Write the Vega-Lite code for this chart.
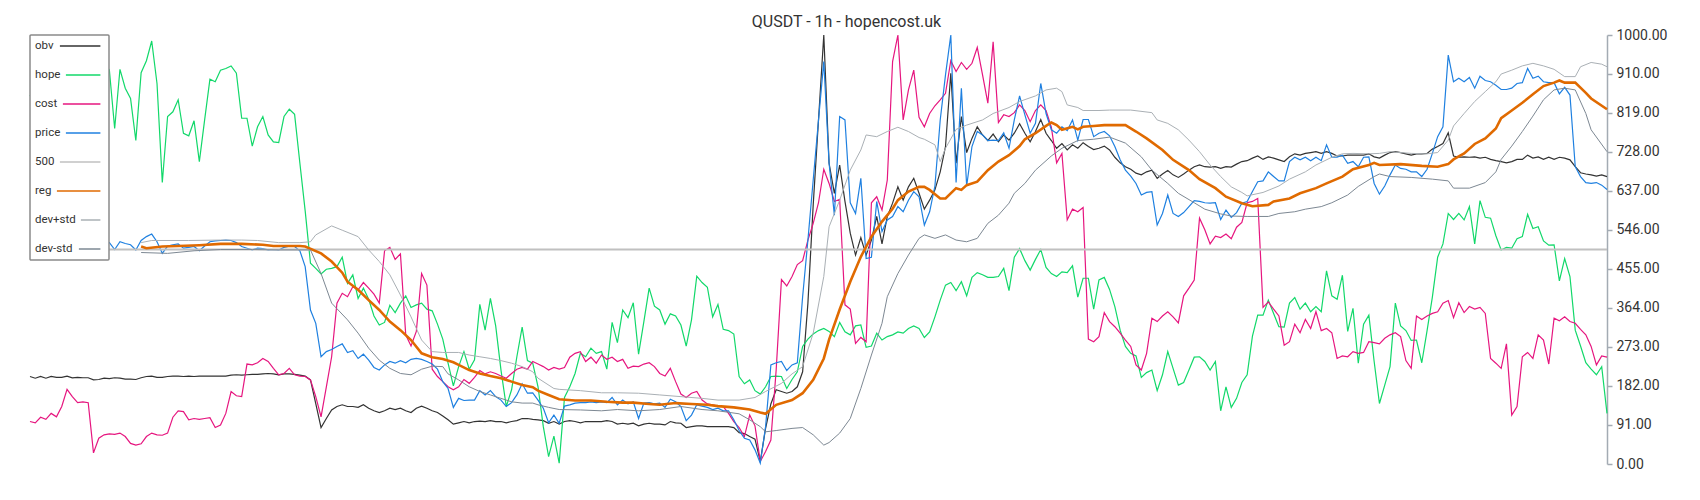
{
"$schema": "https://vega.github.io/schema/vega-lite/v6.json",
"width": 1577, "height": 429,
"autosize": {"type": "none"},
"padding": {"left": 30, "top": 35, "right": 93, "bottom": 36},
"background": "white",
"title": {"text": "QUSDT - 1h - hopencost.uk", "font": "Roboto", "fontSize": 16, "fontWeight": 400, "color": "#333333", "anchor": "middle", "frame": "bounds", "baseline": "alphabetic", "offset": 1, "dy": 16},
"config": {"view": {"stroke": null}},
"datasets": {
"obv": [{"t":0,"v":204},{"t":1,"v":200},{"t":2,"v":204},{"t":3,"v":200},{"t":4,"v":204},{"t":5,"v":202},{"t":6,"v":202},{"t":7,"v":205},{"t":8,"v":201},{"t":9,"v":202},{"t":10,"v":201},{"t":11,"v":201},{"t":12,"v":196},{"t":13,"v":197},{"t":14,"v":200},{"t":15,"v":199},{"t":16,"v":201},{"t":17,"v":200},{"t":18,"v":198},{"t":19,"v":198},{"t":20,"v":197},{"t":21,"v":201},{"t":22,"v":204},{"t":23,"v":205},{"t":24,"v":202},{"t":25,"v":202},{"t":26,"v":204},{"t":27,"v":205},{"t":28,"v":205},{"t":29,"v":204},{"t":30,"v":205},{"t":31,"v":204},{"t":32,"v":205},{"t":33,"v":205},{"t":34,"v":205},{"t":35,"v":205},{"t":36,"v":205},{"t":37,"v":205},{"t":38,"v":207},{"t":39,"v":208},{"t":40,"v":207},{"t":41,"v":208},{"t":42,"v":209},{"t":43,"v":209},{"t":44,"v":210},{"t":45,"v":211},{"t":46,"v":210},{"t":47,"v":208},{"t":48,"v":210},{"t":49,"v":210},{"t":50,"v":209},{"t":51,"v":207},{"t":52,"v":205},{"t":53,"v":196},{"t":54,"v":141},{"t":55,"v":85},{"t":56,"v":106},{"t":57,"v":126},{"t":58,"v":134},{"t":59,"v":138},{"t":60,"v":134},{"t":61,"v":134},{"t":62,"v":132},{"t":63,"v":138},{"t":64,"v":130},{"t":65,"v":124},{"t":66,"v":120},{"t":67,"v":124},{"t":68,"v":130},{"t":69,"v":127},{"t":70,"v":130},{"t":71,"v":124},{"t":72,"v":120},{"t":73,"v":130},{"t":74,"v":135},{"t":75,"v":130},{"t":76,"v":124},{"t":77,"v":120},{"t":78,"v":112},{"t":79,"v":103},{"t":80,"v":93},{"t":81,"v":96},{"t":82,"v":99},{"t":83,"v":96},{"t":84,"v":99},{"t":85,"v":100},{"t":86,"v":99},{"t":87,"v":101},{"t":88,"v":99},{"t":89,"v":99},{"t":90,"v":96},{"t":91,"v":99},{"t":92,"v":101},{"t":93,"v":106},{"t":94,"v":106},{"t":95,"v":104},{"t":96,"v":103},{"t":97,"v":101},{"t":98,"v":95},{"t":99,"v":99},{"t":100,"v":93},{"t":101,"v":99},{"t":102,"v":101},{"t":103,"v":99},{"t":104,"v":96},{"t":105,"v":99},{"t":106,"v":99},{"t":107,"v":99},{"t":108,"v":99},{"t":109,"v":101},{"t":110,"v":99},{"t":111,"v":93},{"t":112,"v":95},{"t":113,"v":93},{"t":114,"v":95},{"t":115,"v":89},{"t":116,"v":93},{"t":117,"v":95},{"t":118,"v":93},{"t":119,"v":93},{"t":120,"v":91},{"t":121,"v":99},{"t":122,"v":96},{"t":123,"v":95},{"t":124,"v":85},{"t":125,"v":87},{"t":126,"v":89},{"t":127,"v":89},{"t":128,"v":87},{"t":129,"v":87},{"t":130,"v":87},{"t":131,"v":87},{"t":132,"v":87},{"t":133,"v":85},{"t":134,"v":73},{"t":135,"v":71},{"t":136,"v":64},{"t":137,"v":58},{"t":138,"v":6},{"t":139,"v":83},{"t":140,"v":140},{"t":141,"v":173},{"t":142,"v":169},{"t":143,"v":165},{"t":144,"v":169},{"t":145,"v":180},{"t":146,"v":215},{"t":147,"v":375},{"t":148,"v":604},{"t":149,"v":802},{"t":150,"v":1000},{"t":151,"v":701},{"t":152,"v":631},{"t":153,"v":697},{"t":154,"v":612},{"t":155,"v":538},{"t":156,"v":487},{"t":157,"v":528},{"t":158,"v":487},{"t":159,"v":522},{"t":160,"v":577},{"t":161,"v":513},{"t":162,"v":577},{"t":163,"v":608},{"t":164,"v":646},{"t":165,"v":615},{"t":166,"v":646},{"t":167,"v":666},{"t":168,"v":631},{"t":169,"v":594},{"t":170,"v":615},{"t":171,"v":639},{"t":172,"v":681},{"t":173,"v":740},{"t":174,"v":911},{"t":175,"v":701},{"t":176,"v":810},{"t":177,"v":726},{"t":178,"v":759},{"t":179,"v":786},{"t":180,"v":767},{"t":181,"v":754},{"t":182,"v":769},{"t":183,"v":751},{"t":184,"v":767},{"t":185,"v":755},{"t":186,"v":771},{"t":187,"v":793},{"t":188,"v":771},{"t":189,"v":751},{"t":190,"v":775},{"t":191,"v":803},{"t":192,"v":771},{"t":193,"v":754},{"t":194,"v":736},{"t":195,"v":747},{"t":196,"v":732},{"t":197,"v":744},{"t":198,"v":736},{"t":199,"v":749},{"t":200,"v":740},{"t":201,"v":733},{"t":202,"v":736},{"t":203,"v":741},{"t":204,"v":732},{"t":205,"v":715},{"t":206,"v":702},{"t":207,"v":693},{"t":208,"v":687},{"t":209,"v":678},{"t":210,"v":674},{"t":211,"v":681},{"t":212,"v":685},{"t":213,"v":666},{"t":214,"v":676},{"t":215,"v":684},{"t":216,"v":674},{"t":217,"v":668},{"t":218,"v":676},{"t":219,"v":685},{"t":220,"v":693},{"t":221,"v":697},{"t":222,"v":693},{"t":223,"v":692},{"t":224,"v":693},{"t":225,"v":689},{"t":226,"v":693},{"t":227,"v":692},{"t":228,"v":699},{"t":229,"v":705},{"t":230,"v":707},{"t":231,"v":713},{"t":232,"v":718},{"t":233,"v":710},{"t":234,"v":716},{"t":235,"v":713},{"t":236,"v":709},{"t":237,"v":705},{"t":238,"v":716},{"t":239,"v":723},{"t":240,"v":720},{"t":241,"v":724},{"t":242,"v":726},{"t":243,"v":728},{"t":244,"v":724},{"t":245,"v":728},{"t":246,"v":724},{"t":247,"v":718},{"t":248,"v":718},{"t":249,"v":720},{"t":250,"v":720},{"t":251,"v":720},{"t":252,"v":720},{"t":253,"v":723},{"t":254,"v":716},{"t":255,"v":713},{"t":256,"v":720},{"t":257,"v":726},{"t":258,"v":728},{"t":259,"v":726},{"t":260,"v":723},{"t":261,"v":720},{"t":262,"v":723},{"t":263,"v":723},{"t":264,"v":724},{"t":265,"v":734},{"t":266,"v":740},{"t":267,"v":747},{"t":268,"v":772},{"t":269,"v":718},{"t":270,"v":715},{"t":271,"v":716},{"t":272,"v":715},{"t":273,"v":716},{"t":274,"v":713},{"t":275,"v":715},{"t":276,"v":710},{"t":277,"v":707},{"t":278,"v":705},{"t":279,"v":702},{"t":280,"v":705},{"t":281,"v":710},{"t":282,"v":710},{"t":283,"v":720},{"t":284,"v":713},{"t":285,"v":716},{"t":286,"v":710},{"t":287,"v":715},{"t":288,"v":710},{"t":289,"v":715},{"t":290,"v":713},{"t":291,"v":709},{"t":292,"v":693},{"t":293,"v":679},{"t":294,"v":676},{"t":295,"v":674},{"t":296,"v":671},{"t":297,"v":674},{"t":298,"v":670}],
"hope": [{"t":0,"v":860},{"t":1,"v":830},{"t":2,"v":880},{"t":3,"v":850},{"t":4,"v":800},{"t":5,"v":870},{"t":6,"v":905},{"t":7,"v":860},{"t":8,"v":820},{"t":9,"v":870},{"t":10,"v":900},{"t":11,"v":880},{"t":12,"v":835},{"t":13,"v":870},{"t":14,"v":900},{"t":15,"v":918},{"t":16,"v":782},{"t":17,"v":920},{"t":18,"v":876},{"t":19,"v":852},{"t":20,"v":754},{"t":21,"v":912},{"t":22,"v":940},{"t":23,"v":986},{"t":24,"v":887},{"t":25,"v":656},{"t":26,"v":810},{"t":27,"v":821},{"t":28,"v":849},{"t":29,"v":771},{"t":30,"v":765},{"t":31,"v":800},{"t":32,"v":705},{"t":33,"v":802},{"t":34,"v":897},{"t":35,"v":891},{"t":36,"v":918},{"t":37,"v":922},{"t":38,"v":928},{"t":39,"v":911},{"t":40,"v":806},{"t":41,"v":806},{"t":42,"v":741},{"t":43,"v":786},{"t":44,"v":810},{"t":45,"v":767},{"t":46,"v":751},{"t":47,"v":749},{"t":48,"v":810},{"t":49,"v":827},{"t":50,"v":815},{"t":51,"v":701},{"t":52,"v":590},{"t":53,"v":468},{"t":54,"v":456},{"t":55,"v":443},{"t":56,"v":454},{"t":57,"v":456},{"t":58,"v":460},{"t":59,"v":482},{"t":60,"v":421},{"t":61,"v":441},{"t":62,"v":386},{"t":63,"v":410},{"t":64,"v":384},{"t":65,"v":345},{"t":66,"v":324},{"t":67,"v":330},{"t":68,"v":370},{"t":69,"v":353},{"t":70,"v":375},{"t":71,"v":392},{"t":72,"v":365},{"t":73,"v":371},{"t":74,"v":375},{"t":75,"v":361},{"t":76,"v":357},{"t":77,"v":326},{"t":78,"v":291},{"t":79,"v":235},{"t":80,"v":182},{"t":81,"v":227},{"t":82,"v":262},{"t":83,"v":221},{"t":84,"v":243},{"t":85,"v":372},{"t":86,"v":312},{"t":87,"v":386},{"t":88,"v":322},{"t":89,"v":219},{"t":90,"v":134},{"t":91,"v":173},{"t":92,"v":250},{"t":93,"v":319},{"t":94,"v":241},{"t":95,"v":235},{"t":96,"v":180},{"t":97,"v":87},{"t":98,"v":17},{"t":99,"v":65},{"t":100,"v":2},{"t":101,"v":155},{"t":102,"v":180},{"t":103,"v":211},{"t":104,"v":258},{"t":105,"v":250},{"t":106,"v":270},{"t":107,"v":258},{"t":108,"v":262},{"t":109,"v":221},{"t":110,"v":330},{"t":111,"v":283},{"t":112,"v":359},{"t":113,"v":341},{"t":114,"v":376},{"t":115,"v":256},{"t":116,"v":332},{"t":117,"v":410},{"t":118,"v":368},{"t":119,"v":359},{"t":120,"v":326},{"t":121,"v":350},{"t":122,"v":345},{"t":123,"v":324},{"t":124,"v":275},{"t":125,"v":336},{"t":126,"v":438},{"t":127,"v":423},{"t":128,"v":412},{"t":129,"v":343},{"t":130,"v":372},{"t":131,"v":314},{"t":132,"v":311},{"t":133,"v":303},{"t":134,"v":204},{"t":135,"v":187},{"t":136,"v":196},{"t":137,"v":171},{"t":138,"v":163},{"t":139,"v":180},{"t":140,"v":204},{"t":141,"v":205},{"t":142,"v":204},{"t":143,"v":176},{"t":144,"v":197},{"t":145,"v":215},{"t":146,"v":274},{"t":147,"v":291},{"t":148,"v":303},{"t":149,"v":311},{"t":150,"v":316},{"t":151,"v":309},{"t":152,"v":297},{"t":153,"v":330},{"t":154,"v":308},{"t":155,"v":301},{"t":156,"v":322},{"t":157,"v":324},{"t":158,"v":272},{"t":159,"v":275},{"t":160,"v":305},{"t":161,"v":289},{"t":162,"v":297},{"t":163,"v":301},{"t":164,"v":308},{"t":165,"v":305},{"t":166,"v":316},{"t":167,"v":322},{"t":168,"v":316},{"t":169,"v":295},{"t":170,"v":308},{"t":171,"v":343},{"t":172,"v":382},{"t":173,"v":417},{"t":174,"v":423},{"t":175,"v":404},{"t":176,"v":425},{"t":177,"v":392},{"t":178,"v":435},{"t":179,"v":446},{"t":180,"v":441},{"t":181,"v":435},{"t":182,"v":435},{"t":183,"v":437},{"t":184,"v":456},{"t":185,"v":404},{"t":186,"v":482},{"t":187,"v":502},{"t":188,"v":474},{"t":189,"v":452},{"t":190,"v":477},{"t":191,"v":500},{"t":192,"v":458},{"t":193,"v":444},{"t":194,"v":437},{"t":195,"v":448},{"t":196,"v":446},{"t":197,"v":462},{"t":198,"v":389},{"t":199,"v":433},{"t":200,"v":433},{"t":201,"v":361},{"t":202,"v":429},{"t":203,"v":435},{"t":204,"v":407},{"t":205,"v":367},{"t":206,"v":312},{"t":207,"v":274},{"t":208,"v":258},{"t":209,"v":252},{"t":210,"v":202},{"t":211,"v":213},{"t":212,"v":219},{"t":213,"v":171},{"t":214,"v":208},{"t":215,"v":262},{"t":216,"v":223},{"t":217,"v":184},{"t":218,"v":190},{"t":219,"v":219},{"t":220,"v":249},{"t":221,"v":250},{"t":222,"v":239},{"t":223,"v":219},{"t":224,"v":239},{"t":225,"v":124},{"t":226,"v":180},{"t":227,"v":132},{"t":228,"v":153},{"t":229,"v":190},{"t":230,"v":208},{"t":231,"v":298},{"t":232,"v":347},{"t":233,"v":347},{"t":234,"v":382},{"t":235,"v":351},{"t":236,"v":320},{"t":237,"v":319},{"t":238,"v":375},{"t":239,"v":388},{"t":240,"v":361},{"t":241,"v":375},{"t":242,"v":355},{"t":243,"v":367},{"t":244,"v":355},{"t":245,"v":450},{"t":246,"v":392},{"t":247,"v":384},{"t":248,"v":440},{"t":249,"v":309},{"t":250,"v":363},{"t":251,"v":235},{"t":252,"v":326},{"t":253,"v":347},{"t":254,"v":239},{"t":255,"v":141},{"t":256,"v":184},{"t":257,"v":227},{"t":258,"v":375},{"t":259,"v":322},{"t":260,"v":311},{"t":261,"v":288},{"t":262,"v":289},{"t":263,"v":236},{"t":264,"v":311},{"t":265,"v":389},{"t":266,"v":482},{"t":267,"v":513},{"t":268,"v":584},{"t":269,"v":570},{"t":270,"v":584},{"t":271,"v":569},{"t":272,"v":600},{"t":273,"v":513},{"t":274,"v":614},{"t":275,"v":575},{"t":276,"v":573},{"t":277,"v":532},{"t":278,"v":499},{"t":279,"v":505},{"t":280,"v":503},{"t":281,"v":525},{"t":282,"v":530},{"t":283,"v":582},{"t":284,"v":549},{"t":285,"v":553},{"t":286,"v":520},{"t":287,"v":510},{"t":288,"v":511},{"t":289,"v":427},{"t":290,"v":479},{"t":291,"v":437},{"t":292,"v":312},{"t":293,"v":275},{"t":294,"v":236},{"t":295,"v":221},{"t":296,"v":208},{"t":297,"v":227},{"t":298,"v":118}],
"cost": [{"t":0,"v":99},{"t":1,"v":96},{"t":2,"v":109},{"t":3,"v":104},{"t":4,"v":118},{"t":5,"v":110},{"t":6,"v":134},{"t":7,"v":174},{"t":8,"v":157},{"t":9,"v":143},{"t":10,"v":145},{"t":11,"v":143},{"t":12,"v":26},{"t":13,"v":60},{"t":14,"v":68},{"t":15,"v":70},{"t":16,"v":69},{"t":17,"v":72},{"t":18,"v":64},{"t":19,"v":48},{"t":20,"v":44},{"t":21,"v":47},{"t":22,"v":64},{"t":23,"v":72},{"t":24,"v":68},{"t":25,"v":67},{"t":26,"v":72},{"t":27,"v":109},{"t":28,"v":124},{"t":29,"v":122},{"t":30,"v":103},{"t":31,"v":106},{"t":32,"v":104},{"t":33,"v":106},{"t":34,"v":108},{"t":35,"v":85},{"t":36,"v":91},{"t":37,"v":118},{"t":38,"v":169},{"t":39,"v":159},{"t":40,"v":157},{"t":41,"v":233},{"t":42,"v":231},{"t":43,"v":236},{"t":44,"v":246},{"t":45,"v":239},{"t":46,"v":223},{"t":47,"v":208},{"t":48,"v":211},{"t":49,"v":223},{"t":50,"v":208},{"t":51,"v":205},{"t":52,"v":204},{"t":53,"v":196},{"t":54,"v":157},{"t":55,"v":110},{"t":56,"v":180},{"t":57,"v":250},{"t":58,"v":375},{"t":59,"v":398},{"t":60,"v":390},{"t":61,"v":413},{"t":62,"v":406},{"t":63,"v":423},{"t":64,"v":410},{"t":65,"v":396},{"t":66,"v":375},{"t":67,"v":497},{"t":68,"v":505},{"t":69,"v":477},{"t":70,"v":490},{"t":71,"v":301},{"t":72,"v":275},{"t":73,"v":309},{"t":74,"v":444},{"t":75,"v":417},{"t":76,"v":221},{"t":77,"v":204},{"t":78,"v":192},{"t":79,"v":180},{"t":80,"v":173},{"t":81,"v":180},{"t":82,"v":197},{"t":83,"v":188},{"t":84,"v":202},{"t":85,"v":218},{"t":86,"v":210},{"t":87,"v":215},{"t":88,"v":211},{"t":89,"v":205},{"t":90,"v":200},{"t":91,"v":211},{"t":92,"v":221},{"t":93,"v":225},{"t":94,"v":221},{"t":95,"v":239},{"t":96,"v":233},{"t":97,"v":227},{"t":98,"v":219},{"t":99,"v":225},{"t":100,"v":221},{"t":101,"v":225},{"t":102,"v":249},{"t":103,"v":258},{"t":104,"v":262},{"t":105,"v":239},{"t":106,"v":249},{"t":107,"v":235},{"t":108,"v":254},{"t":109,"v":244},{"t":110,"v":249},{"t":111,"v":239},{"t":112,"v":244},{"t":113,"v":223},{"t":114,"v":228},{"t":115,"v":227},{"t":116,"v":233},{"t":117,"v":236},{"t":118,"v":227},{"t":119,"v":211},{"t":120,"v":205},{"t":121,"v":223},{"t":122,"v":192},{"t":123,"v":163},{"t":124,"v":155},{"t":125,"v":165},{"t":126,"v":169},{"t":127,"v":149},{"t":128,"v":140},{"t":129,"v":138},{"t":130,"v":135},{"t":131,"v":134},{"t":132,"v":118},{"t":133,"v":99},{"t":134,"v":85},{"t":135,"v":64},{"t":136,"v":114},{"t":137,"v":89},{"t":138,"v":6},{"t":139,"v":29},{"t":140,"v":56},{"t":141,"v":219},{"t":142,"v":430},{"t":143,"v":415},{"t":144,"v":437},{"t":145,"v":465},{"t":146,"v":474},{"t":147,"v":522},{"t":148,"v":561},{"t":149,"v":609},{"t":150,"v":687},{"t":151,"v":654},{"t":152,"v":612},{"t":153,"v":617},{"t":154,"v":371},{"t":155,"v":361},{"t":156,"v":281},{"t":157,"v":295},{"t":158,"v":285},{"t":159,"v":609},{"t":160,"v":623},{"t":161,"v":592},{"t":162,"v":662},{"t":163,"v":938},{"t":164,"v":1000},{"t":165,"v":802},{"t":166,"v":872},{"t":167,"v":918},{"t":168,"v":808},{"t":169,"v":786},{"t":170,"v":817},{"t":171,"v":835},{"t":172,"v":849},{"t":173,"v":864},{"t":174,"v":940},{"t":175,"v":915},{"t":176,"v":936},{"t":177,"v":920},{"t":178,"v":934},{"t":179,"v":971},{"t":180,"v":907},{"t":181,"v":841},{"t":182,"v":984},{"t":183,"v":796},{"t":184,"v":814},{"t":185,"v":810},{"t":186,"v":819},{"t":187,"v":837},{"t":188,"v":824},{"t":189,"v":798},{"t":190,"v":824},{"t":191,"v":837},{"t":192,"v":824},{"t":193,"v":785},{"t":194,"v":702},{"t":195,"v":724},{"t":196,"v":569},{"t":197,"v":594},{"t":198,"v":588},{"t":199,"v":598},{"t":200,"v":291},{"t":201,"v":285},{"t":202,"v":297},{"t":203,"v":353},{"t":204,"v":332},{"t":205,"v":320},{"t":206,"v":305},{"t":207,"v":289},{"t":208,"v":274},{"t":209,"v":231},{"t":210,"v":219},{"t":211,"v":258},{"t":212,"v":340},{"t":213,"v":332},{"t":214,"v":345},{"t":215,"v":355},{"t":216,"v":343},{"t":217,"v":329},{"t":218,"v":392},{"t":219,"v":410},{"t":220,"v":429},{"t":221,"v":573},{"t":222,"v":546},{"t":223,"v":513},{"t":224,"v":531},{"t":225,"v":528},{"t":226,"v":536},{"t":227,"v":525},{"t":228,"v":552},{"t":229,"v":563},{"t":230,"v":609},{"t":231,"v":612},{"t":232,"v":619},{"t":233,"v":365},{"t":234,"v":378},{"t":235,"v":361},{"t":236,"v":345},{"t":237,"v":277},{"t":238,"v":285},{"t":239,"v":326},{"t":240,"v":306},{"t":241,"v":337},{"t":242,"v":316},{"t":243,"v":355},{"t":244,"v":311},{"t":245,"v":316},{"t":246,"v":306},{"t":247,"v":246},{"t":248,"v":252},{"t":249,"v":250},{"t":250,"v":262},{"t":251,"v":258},{"t":252,"v":260},{"t":253,"v":285},{"t":254,"v":283},{"t":255,"v":280},{"t":256,"v":293},{"t":257,"v":301},{"t":258,"v":306},{"t":259,"v":297},{"t":260,"v":241},{"t":261,"v":223},{"t":262,"v":345},{"t":263,"v":337},{"t":264,"v":345},{"t":265,"v":351},{"t":266,"v":355},{"t":267,"v":375},{"t":268,"v":381},{"t":269,"v":341},{"t":270,"v":376},{"t":271,"v":353},{"t":272,"v":367},{"t":273,"v":361},{"t":274,"v":365},{"t":275,"v":351},{"t":276,"v":246},{"t":277,"v":235},{"t":278,"v":223},{"t":279,"v":280},{"t":280,"v":114},{"t":281,"v":134},{"t":282,"v":250},{"t":283,"v":260},{"t":284,"v":246},{"t":285,"v":301},{"t":286,"v":289},{"t":287,"v":233},{"t":288,"v":340},{"t":289,"v":334},{"t":290,"v":343},{"t":291,"v":332},{"t":292,"v":328},{"t":293,"v":314},{"t":294,"v":301},{"t":295,"v":274},{"t":296,"v":231},{"t":297,"v":252},{"t":298,"v":249}],
"price": [{"t":0,"v":512},{"t":1,"v":508},{"t":2,"v":515},{"t":3,"v":510},{"t":4,"v":504},{"t":5,"v":512},{"t":6,"v":518},{"t":7,"v":510},{"t":8,"v":506},{"t":9,"v":514},{"t":10,"v":520},{"t":11,"v":512},{"t":12,"v":505},{"t":13,"v":510},{"t":14,"v":515},{"t":15,"v":516},{"t":16,"v":500},{"t":17,"v":518},{"t":18,"v":514},{"t":19,"v":511},{"t":20,"v":499},{"t":21,"v":521},{"t":22,"v":530},{"t":23,"v":536},{"t":24,"v":518},{"t":25,"v":491},{"t":26,"v":508},{"t":27,"v":511},{"t":28,"v":513},{"t":29,"v":503},{"t":30,"v":505},{"t":31,"v":507},{"t":32,"v":497},{"t":33,"v":508},{"t":34,"v":518},{"t":35,"v":520},{"t":36,"v":521},{"t":37,"v":522},{"t":38,"v":521},{"t":39,"v":516},{"t":40,"v":507},{"t":41,"v":503},{"t":42,"v":499},{"t":43,"v":503},{"t":44,"v":502},{"t":45,"v":499},{"t":46,"v":500},{"t":47,"v":499},{"t":48,"v":505},{"t":49,"v":508},{"t":50,"v":507},{"t":51,"v":497},{"t":52,"v":460},{"t":53,"v":359},{"t":54,"v":328},{"t":55,"v":250},{"t":56,"v":262},{"t":57,"v":267},{"t":58,"v":274},{"t":59,"v":280},{"t":60,"v":260},{"t":61,"v":264},{"t":62,"v":246},{"t":63,"v":256},{"t":64,"v":242},{"t":65,"v":225},{"t":66,"v":219},{"t":67,"v":231},{"t":68,"v":239},{"t":69,"v":235},{"t":70,"v":241},{"t":71,"v":236},{"t":72,"v":244},{"t":73,"v":246},{"t":74,"v":244},{"t":75,"v":239},{"t":76,"v":233},{"t":77,"v":221},{"t":78,"v":192},{"t":79,"v":176},{"t":80,"v":132},{"t":81,"v":153},{"t":82,"v":148},{"t":83,"v":149},{"t":84,"v":149},{"t":85,"v":171},{"t":86,"v":161},{"t":87,"v":171},{"t":88,"v":157},{"t":89,"v":149},{"t":90,"v":134},{"t":91,"v":143},{"t":92,"v":161},{"t":93,"v":187},{"t":94,"v":165},{"t":95,"v":166},{"t":96,"v":149},{"t":97,"v":130},{"t":98,"v":96},{"t":99,"v":114},{"t":100,"v":95},{"t":101,"v":135},{"t":102,"v":138},{"t":103,"v":142},{"t":104,"v":143},{"t":105,"v":143},{"t":106,"v":145},{"t":107,"v":143},{"t":108,"v":145},{"t":109,"v":143},{"t":110,"v":155},{"t":111,"v":138},{"t":112,"v":149},{"t":113,"v":140},{"t":114,"v":145},{"t":115,"v":106},{"t":116,"v":142},{"t":117,"v":143},{"t":118,"v":140},{"t":119,"v":142},{"t":120,"v":132},{"t":121,"v":151},{"t":122,"v":145},{"t":123,"v":134},{"t":124,"v":101},{"t":125,"v":114},{"t":126,"v":138},{"t":127,"v":135},{"t":128,"v":132},{"t":129,"v":127},{"t":130,"v":130},{"t":131,"v":124},{"t":132,"v":124},{"t":133,"v":103},{"t":134,"v":78},{"t":135,"v":60},{"t":136,"v":56},{"t":137,"v":33},{"t":138,"v":2},{"t":139,"v":87},{"t":140,"v":231},{"t":141,"v":236},{"t":142,"v":239},{"t":143,"v":218},{"t":144,"v":231},{"t":145,"v":236},{"t":146,"v":390},{"t":147,"v":522},{"t":148,"v":662},{"t":149,"v":802},{"t":150,"v":938},{"t":151,"v":701},{"t":152,"v":580},{"t":153,"v":810},{"t":154,"v":802},{"t":155,"v":609},{"t":156,"v":584},{"t":157,"v":666},{"t":158,"v":479},{"t":159,"v":482},{"t":160,"v":612},{"t":161,"v":542},{"t":162,"v":569},{"t":163,"v":577},{"t":164,"v":600},{"t":165,"v":588},{"t":166,"v":615},{"t":167,"v":635},{"t":168,"v":623},{"t":169,"v":557},{"t":170,"v":588},{"t":171,"v":648},{"t":172,"v":802},{"t":173,"v":907},{"t":174,"v":1000},{"t":175,"v":656},{"t":176,"v":876},{"t":177,"v":648},{"t":178,"v":740},{"t":179,"v":775},{"t":180,"v":767},{"t":181,"v":754},{"t":182,"v":755},{"t":183,"v":754},{"t":184,"v":772},{"t":185,"v":736},{"t":186,"v":802},{"t":187,"v":858},{"t":188,"v":814},{"t":189,"v":771},{"t":190,"v":794},{"t":191,"v":887},{"t":192,"v":817},{"t":193,"v":779},{"t":194,"v":771},{"t":195,"v":786},{"t":196,"v":777},{"t":197,"v":802},{"t":198,"v":755},{"t":199,"v":803},{"t":200,"v":803},{"t":201,"v":763},{"t":202,"v":771},{"t":203,"v":775},{"t":204,"v":765},{"t":205,"v":740},{"t":206,"v":709},{"t":207,"v":685},{"t":208,"v":671},{"t":209,"v":654},{"t":210,"v":627},{"t":211,"v":633},{"t":212,"v":635},{"t":213,"v":557},{"t":214,"v":584},{"t":215,"v":627},{"t":216,"v":584},{"t":217,"v":577},{"t":218,"v":586},{"t":219,"v":600},{"t":220,"v":614},{"t":221,"v":612},{"t":222,"v":609},{"t":223,"v":608},{"t":224,"v":609},{"t":225,"v":570},{"t":226,"v":592},{"t":227,"v":575},{"t":228,"v":586},{"t":229,"v":608},{"t":230,"v":612},{"t":231,"v":635},{"t":232,"v":658},{"t":233,"v":660},{"t":234,"v":681},{"t":235,"v":670},{"t":236,"v":660},{"t":237,"v":660},{"t":238,"v":705},{"t":239,"v":715},{"t":240,"v":709},{"t":241,"v":715},{"t":242,"v":707},{"t":243,"v":715},{"t":244,"v":707},{"t":245,"v":744},{"t":246,"v":715},{"t":247,"v":715},{"t":248,"v":720},{"t":249,"v":701},{"t":250,"v":705},{"t":251,"v":693},{"t":252,"v":715},{"t":253,"v":716},{"t":254,"v":654},{"t":255,"v":629},{"t":256,"v":648},{"t":257,"v":674},{"t":258,"v":697},{"t":259,"v":689},{"t":260,"v":687},{"t":261,"v":681},{"t":262,"v":681},{"t":263,"v":670},{"t":264,"v":687},{"t":265,"v":724},{"t":266,"v":763},{"t":267,"v":786},{"t":268,"v":953},{"t":269,"v":891},{"t":270,"v":899},{"t":271,"v":891},{"t":272,"v":901},{"t":273,"v":876},{"t":274,"v":904},{"t":275,"v":894},{"t":276,"v":891},{"t":277,"v":883},{"t":278,"v":873},{"t":279,"v":873},{"t":280,"v":876},{"t":281,"v":887},{"t":282,"v":889},{"t":283,"v":922},{"t":284,"v":899},{"t":285,"v":904},{"t":286,"v":891},{"t":287,"v":889},{"t":288,"v":889},{"t":289,"v":863},{"t":290,"v":878},{"t":291,"v":860},{"t":292,"v":693},{"t":293,"v":670},{"t":294,"v":656},{"t":295,"v":654},{"t":296,"v":656},{"t":297,"v":650},{"t":298,"v":640}],
"d500": [{"t":0,"v":500},{"t":298,"v":500}],
"reg": [{"t":21,"v":507},{"t":22,"v":503},{"t":25,"v":507},{"t":28,"v":508},{"t":32,"v":510},{"t":36,"v":513},{"t":40,"v":513},{"t":44,"v":511},{"t":46,"v":508},{"t":51,"v":508},{"t":52,"v":507},{"t":55,"v":491},{"t":57,"v":472},{"t":59,"v":446},{"t":60,"v":425},{"t":62,"v":406},{"t":64,"v":382},{"t":66,"v":359},{"t":68,"v":332},{"t":70,"v":312},{"t":72,"v":289},{"t":74,"v":258},{"t":76,"v":249},{"t":78,"v":245},{"t":80,"v":237},{"t":81,"v":231},{"t":83,"v":219},{"t":85,"v":211},{"t":87,"v":205},{"t":89,"v":200},{"t":91,"v":192},{"t":93,"v":184},{"t":95,"v":179},{"t":96,"v":171},{"t":98,"v":161},{"t":100,"v":151},{"t":103,"v":148},{"t":106,"v":148},{"t":109,"v":145},{"t":112,"v":143},{"t":114,"v":143},{"t":117,"v":140},{"t":119,"v":138},{"t":122,"v":142},{"t":125,"v":140},{"t":128,"v":138},{"t":130,"v":135},{"t":133,"v":132},{"t":136,"v":127},{"t":138,"v":120},{"t":139,"v":117},{"t":141,"v":138},{"t":144,"v":149},{"t":146,"v":165},{"t":148,"v":196},{"t":150,"v":246},{"t":151,"v":290},{"t":153,"v":360},{"t":155,"v":425},{"t":157,"v":483},{"t":159,"v":530},{"t":161,"v":565},{"t":163,"v":595},{"t":164,"v":615},{"t":166,"v":635},{"t":168,"v":646},{"t":169,"v":646},{"t":170,"v":639},{"t":172,"v":619},{"t":173,"v":619},{"t":175,"v":643},{"t":176,"v":639},{"t":177,"v":650},{"t":179,"v":658},{"t":181,"v":685},{"t":183,"v":705},{"t":185,"v":720},{"t":187,"v":741},{"t":188,"v":757},{"t":190,"v":771},{"t":192,"v":788},{"t":193,"v":796},{"t":194,"v":790},{"t":195,"v":779},{"t":197,"v":786},{"t":198,"v":780},{"t":199,"v":786},{"t":201,"v":788},{"t":203,"v":790},{"t":207,"v":790},{"t":209,"v":775},{"t":211,"v":759},{"t":214,"v":732},{"t":216,"v":709},{"t":219,"v":685},{"t":221,"v":664},{"t":224,"v":643},{"t":226,"v":623},{"t":229,"v":608},{"t":231,"v":601},{"t":234,"v":604},{"t":235,"v":612},{"t":238,"v":619},{"t":240,"v":631},{"t":243,"v":643},{"t":245,"v":654},{"t":248,"v":670},{"t":250,"v":687},{"t":253,"v":697},{"t":254,"v":702},{"t":255,"v":697},{"t":259,"v":699},{"t":263,"v":695},{"t":266,"v":693},{"t":268,"v":699},{"t":269,"v":710},{"t":271,"v":724},{"t":273,"v":746},{"t":275,"v":759},{"t":277,"v":782},{"t":278,"v":806},{"t":280,"v":824},{"t":282,"v":842},{"t":284,"v":862},{"t":286,"v":881},{"t":288,"v":889},{"t":289,"v":894},{"t":290,"v":889},{"t":292,"v":889},{"t":294,"v":865},{"t":295,"v":852},{"t":298,"v":827}],
"devp": [{"t":21,"v":516},{"t":23,"v":521},{"t":30,"v":521},{"t":36,"v":522},{"t":40,"v":522},{"t":43,"v":521},{"t":47,"v":516},{"t":51,"v":516},{"t":53,"v":518},{"t":54,"v":534},{"t":57,"v":555},{"t":59,"v":545},{"t":62,"v":530},{"t":64,"v":499},{"t":66,"v":472},{"t":68,"v":441},{"t":70,"v":394},{"t":72,"v":343},{"t":74,"v":289},{"t":76,"v":262},{"t":78,"v":260},{"t":81,"v":260},{"t":83,"v":254},{"t":85,"v":250},{"t":87,"v":246},{"t":89,"v":241},{"t":91,"v":235},{"t":93,"v":227},{"t":95,"v":215},{"t":96,"v":200},{"t":99,"v":176},{"t":100,"v":174},{"t":104,"v":171},{"t":108,"v":166},{"t":111,"v":166},{"t":115,"v":165},{"t":119,"v":161},{"t":123,"v":157},{"t":127,"v":153},{"t":130,"v":149},{"t":134,"v":149},{"t":137,"v":155},{"t":139,"v":169},{"t":142,"v":188},{"t":144,"v":210},{"t":146,"v":227},{"t":148,"v":305},{"t":150,"v":437},{"t":151,"v":553},{"t":153,"v":615},{"t":155,"v":685},{"t":157,"v":732},{"t":158,"v":767},{"t":160,"v":763},{"t":162,"v":775},{"t":164,"v":785},{"t":166,"v":775},{"t":168,"v":761},{"t":169,"v":757},{"t":171,"v":744},{"t":172,"v":705},{"t":173,"v":736},{"t":175,"v":780},{"t":177,"v":790},{"t":180,"v":802},{"t":182,"v":817},{"t":185,"v":831},{"t":187,"v":845},{"t":190,"v":858},{"t":192,"v":872},{"t":194,"v":876},{"t":195,"v":868},{"t":196,"v":837},{"t":198,"v":831},{"t":199,"v":824},{"t":202,"v":824},{"t":204,"v":825},{"t":208,"v":825},{"t":212,"v":819},{"t":213,"v":802},{"t":215,"v":794},{"t":217,"v":779},{"t":219,"v":755},{"t":221,"v":728},{"t":223,"v":697},{"t":225,"v":670},{"t":227,"v":646},{"t":229,"v":633},{"t":230,"v":625},{"t":233,"v":633},{"t":236,"v":648},{"t":238,"v":664},{"t":241,"v":681},{"t":243,"v":697},{"t":246,"v":715},{"t":248,"v":723},{"t":250,"v":724},{"t":253,"v":723},{"t":255,"v":724},{"t":257,"v":728},{"t":261,"v":724},{"t":264,"v":723},{"t":266,"v":726},{"t":268,"v":755},{"t":269,"v":788},{"t":271,"v":817},{"t":273,"v":845},{"t":275,"v":868},{"t":277,"v":891},{"t":278,"v":909},{"t":280,"v":918},{"t":282,"v":928},{"t":284,"v":934},{"t":286,"v":928},{"t":288,"v":920},{"t":290,"v":903},{"t":292,"v":903},{"t":293,"v":926},{"t":295,"v":936},{"t":297,"v":932},{"t":298,"v":926}],
"devm": [{"t":21,"v":493},{"t":26,"v":491},{"t":31,"v":497},{"t":36,"v":500},{"t":42,"v":500},{"t":47,"v":499},{"t":51,"v":499},{"t":53,"v":499},{"t":55,"v":444},{"t":57,"v":375},{"t":60,"v":336},{"t":62,"v":305},{"t":64,"v":270},{"t":66,"v":242},{"t":68,"v":223},{"t":70,"v":211},{"t":72,"v":208},{"t":74,"v":221},{"t":76,"v":228},{"t":78,"v":227},{"t":79,"v":210},{"t":81,"v":196},{"t":83,"v":180},{"t":85,"v":169},{"t":87,"v":161},{"t":89,"v":153},{"t":91,"v":145},{"t":93,"v":142},{"t":95,"v":142},{"t":96,"v":138},{"t":98,"v":132},{"t":100,"v":127},{"t":104,"v":126},{"t":108,"v":124},{"t":111,"v":127},{"t":115,"v":124},{"t":119,"v":127},{"t":123,"v":134},{"t":127,"v":127},{"t":130,"v":124},{"t":134,"v":117},{"t":136,"v":103},{"t":138,"v":87},{"t":139,"v":75},{"t":141,"v":78},{"t":144,"v":83},{"t":146,"v":85},{"t":148,"v":68},{"t":150,"v":44},{"t":151,"v":50},{"t":153,"v":72},{"t":155,"v":106},{"t":157,"v":176},{"t":159,"v":254},{"t":161,"v":328},{"t":162,"v":390},{"t":164,"v":444},{"t":166,"v":487},{"t":168,"v":526},{"t":169,"v":534},{"t":171,"v":526},{"t":173,"v":534},{"t":175,"v":522},{"t":177,"v":518},{"t":179,"v":526},{"t":181,"v":561},{"t":183,"v":580},{"t":185,"v":608},{"t":186,"v":631},{"t":188,"v":654},{"t":190,"v":685},{"t":193,"v":718},{"t":195,"v":736},{"t":198,"v":754},{"t":201,"v":757},{"t":204,"v":762},{"t":207,"v":748},{"t":210,"v":716},{"t":212,"v":685},{"t":215,"v":654},{"t":217,"v":631},{"t":220,"v":609},{"t":222,"v":594},{"t":225,"v":583},{"t":227,"v":578},{"t":230,"v":577},{"t":234,"v":577},{"t":236,"v":584},{"t":239,"v":588},{"t":241,"v":594},{"t":244,"v":600},{"t":246,"v":609},{"t":249,"v":627},{"t":251,"v":647},{"t":254,"v":670},{"t":255,"v":676},{"t":257,"v":670},{"t":261,"v":668},{"t":265,"v":664},{"t":268,"v":660},{"t":269,"v":643},{"t":272,"v":643},{"t":275,"v":656},{"t":277,"v":681},{"t":278,"v":710},{"t":280,"v":741},{"t":282,"v":775},{"t":284,"v":811},{"t":286,"v":849},{"t":288,"v":872},{"t":290,"v":876},{"t":292,"v":872},{"t":294,"v":817},{"t":295,"v":779},{"t":298,"v":728}]
},
"encoding": {
"x": {"field": "t", "type": "quantitative", "scale": {"domain": [0, 298], "nice": false, "zero": false}, "axis": null},
"y": {"field": "v", "type": "quantitative", "scale": {"domain": [0, 1000], "nice": false}, "axis": {"orient": "right", "values": [0, 91, 182, 273, 364, 455, 546, 637, 728, 819, 910, 1000], "format": ".2f", "title": null, "grid": false, "labelFont": "Roboto", "labelFontSize": 14, "labelColor": "#333333", "domainColor": "#a3abb3", "domainWidth": 1.5, "tickColor": "#a3abb3", "tickWidth": 1.5, "tickSize": 5, "labelPadding": 4, "labelOverlap": false, "labelBound": false, "labelFlush": false}}
},
"layer": [
{"data": {"name": "obv"}, "mark": {"type": "line", "strokeWidth": 1.2}, "encoding": {"color": {"datum": "obv", "type": "nominal", "scale": {"domain": ["obv", "hope", "cost", "price", "500", "reg", "dev+std", "dev-std"], "range": ["#333333", "#12d86a", "#e6167f", "#1f80e0", "#c0c0c0", "#e06a00", "#aab0b5", "#7d8893"]}, "legend": {"title": null, "orient": "top-left", "offset": 0, "padding": 5, "fillColor": "#ffffff", "strokeColor": "#8a8a8a", "cornerRadius": 1, "labelFont": "Roboto", "labelFontSize": 11.5, "labelColor": "#333333", "symbolType": "M-7,0L1,0", "symbolSize": 100, "symbolStrokeWidth": 1.5, "rowPadding": 17, "encode": {"labels": {"update": {"x": {"value": 0}, "align": {"value": "left"}}}, "symbols": {"update": {"x": {"value": 60.4}, "shape": {"signal": "datum.value == 'obv' ? 'M-7.1,0L1,0' : datum.value == 'hope' ? 'M-5.9,0L1,0' : datum.value == 'cost' ? 'M-6.5,0L1,0' : datum.value == 'price' ? 'M-5.9,0L1,0' : datum.value == '500' ? 'M-7.1,0L1,0' : datum.value == 'reg' ? 'M-7.7,0L1,0' : datum.value == 'dev+std' ? 'M-2.9,0L1,0' : 'M-3.3,0L1,0'"}}}, "legend": {"update": {"strokeWidth": {"value": 1.5}}}}}}}},
{"data": {"name": "hope"}, "mark": {"type": "line", "strokeWidth": 1.2}, "encoding": {"color": {"datum": "hope", "type": "nominal"}}},
{"data": {"name": "cost"}, "mark": {"type": "line", "strokeWidth": 1.2}, "encoding": {"color": {"datum": "cost", "type": "nominal"}}},
{"data": {"name": "price"}, "mark": {"type": "line", "strokeWidth": 1.2}, "encoding": {"color": {"datum": "price", "type": "nominal"}}},
{"data": {"name": "d500"}, "mark": {"type": "line", "strokeWidth": 2}, "encoding": {"color": {"datum": "500", "type": "nominal"}}},
{"data": {"name": "reg"}, "mark": {"type": "line", "strokeWidth": 2.6}, "encoding": {"color": {"datum": "reg", "type": "nominal"}}},
{"data": {"name": "devp"}, "mark": {"type": "line", "strokeWidth": 1}, "encoding": {"color": {"datum": "dev+std", "type": "nominal"}}},
{"data": {"name": "devm"}, "mark": {"type": "line", "strokeWidth": 1}, "encoding": {"color": {"datum": "dev-std", "type": "nominal"}}}
]
}
